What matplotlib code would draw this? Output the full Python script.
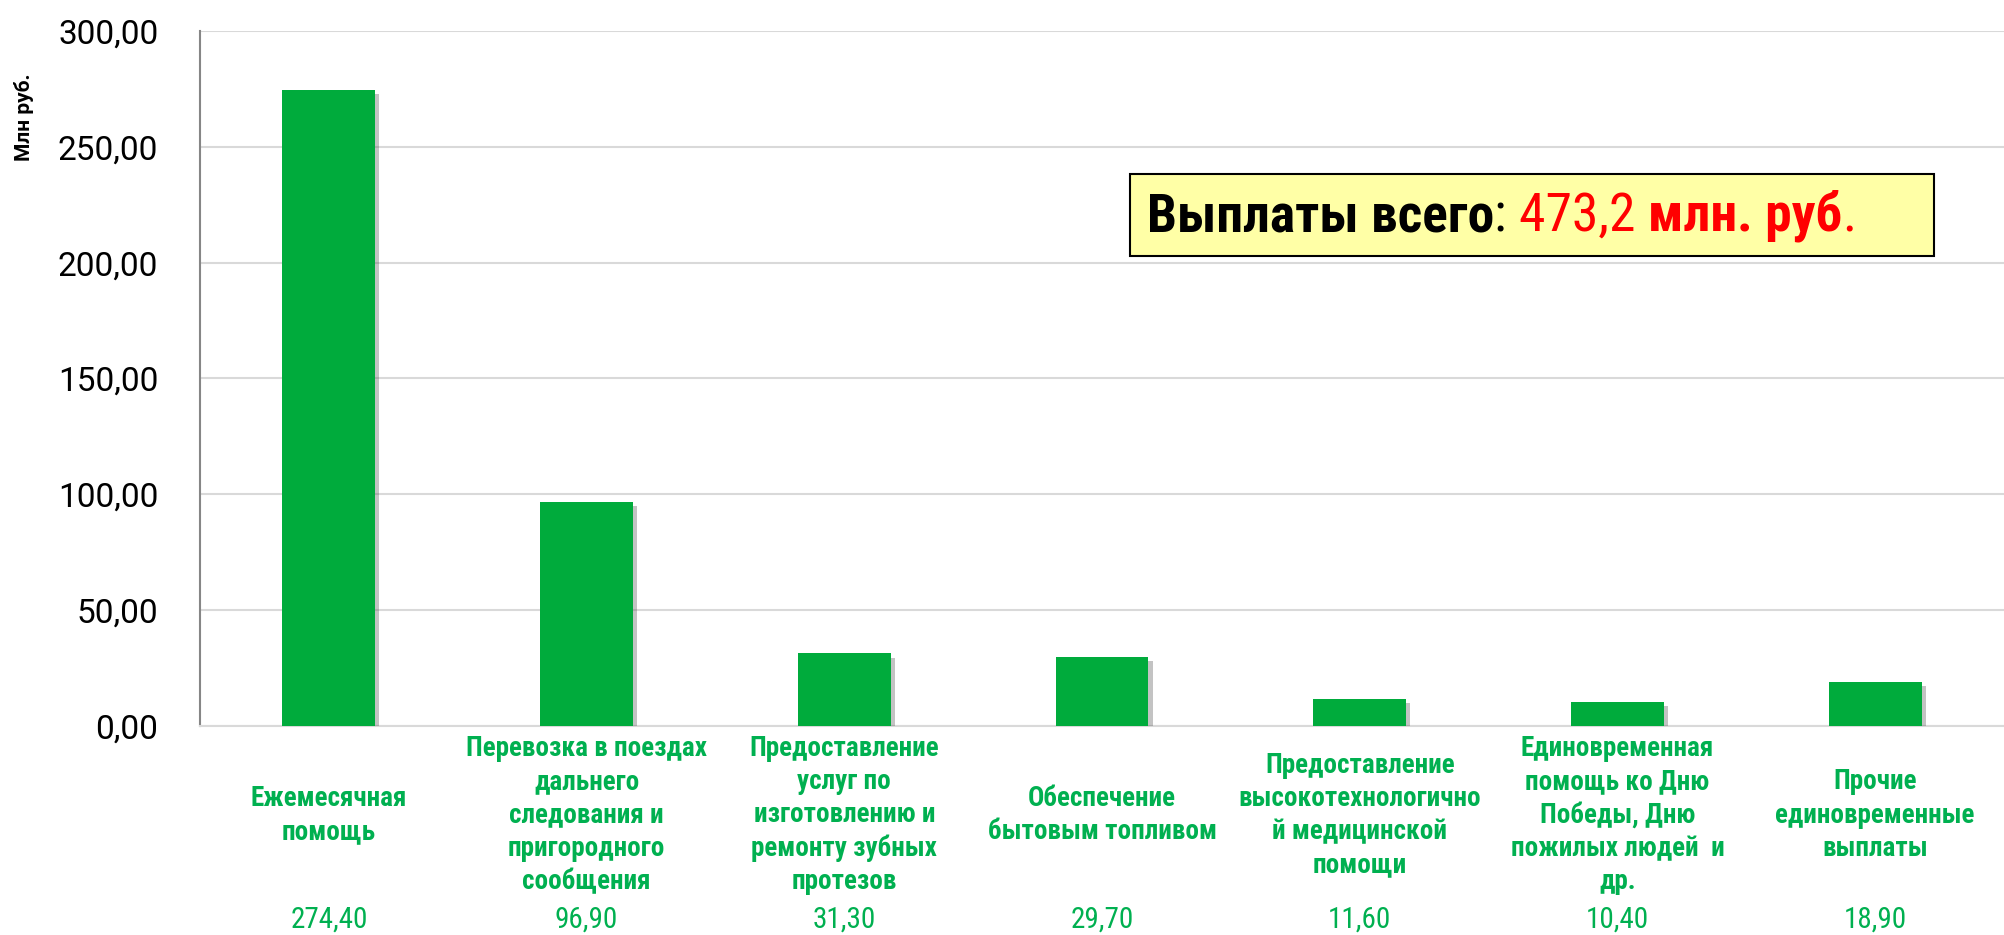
import matplotlib
matplotlib.use("Agg")
import matplotlib.pyplot as plt
import matplotlib.patheffects as pe
from matplotlib import transforms
from matplotlib.patches import Rectangle
from matplotlib.ticker import FuncFormatter, MultipleLocator

# data
categories = [
    "Ежемесячная\nпомощь",
    "Перевозка в поездах\nдальнего\nследования и\nпригородного\nсообщения",
    "Предоставление\nуслуг по\nизготовлению и\nремонту зубных\nпротезов",
    "Обеспечение\nбытовым топливом",
    "Предоставление\nвысокотехнологично\nй медицинской\nпомощи",
    "Единовременная\nпомощь ко Дню\nПобеды, Дню\nпожилых людей  и\nдр.",
    "Прочие\nединовременные\nвыплаты",
]
values = [274.40, 96.90, 31.30, 29.70, 11.60, 10.40, 18.90]
total_text = "473,2"

BAR = "#00AB3C"
GREEN = "#00B050"
NARROW = ["Roboto Condensed", "Roboto", "DejaVu Sans"]

W, H = 2004, 935
fig = plt.figure(figsize=(W / 100, H / 100), dpi=100)
ax = fig.add_axes([200 / W, 1 - 726 / H, 1 - 200 / W, (726 - 31) / H])

x = list(range(len(values)))
bars = ax.bar(x, values, width=0.36, color=BAR, zorder=3)
for b in bars:
    b.set_path_effects([pe.SimplePatchShadow(offset=(3, -3), shadow_rgbFace="#555555", alpha=0.35),
                        pe.Normal()])

ax.set_xlim(-0.5, len(values) - 0.5)
ax.set_ylim(0, 300)
ax.yaxis.set_major_locator(MultipleLocator(50))
ax.yaxis.set_major_formatter(FuncFormatter(lambda v, p: f"{v:.2f}".replace(".", ",")))
ax.grid(axis="y", color="#d9d9d9", lw=1.5, zorder=0)
ax.set_xticks([])
ax.tick_params(axis="y", length=0, pad=30, labelsize=24)
for lab in ax.get_yticklabels():
    lab.set_family("Roboto")
for s in ["top", "right"]:
    ax.spines[s].set_visible(False)
ax.spines["left"].set_color("#868686")
ax.spines["left"].set_linewidth(1.5)
ax.spines["bottom"].set_color("#d9d9d9")
ax.spines["bottom"].set_linewidth(1.5)

fig.text(24 / W, 0.875, "Млн руб.", rotation=90, ha="center", va="center",
         fontsize=15, fontweight="bold", family="Roboto")

# category labels and values under the axis
trans = transforms.blended_transform_factory(ax.transData, fig.transFigure)
for i, (cat, v) in enumerate(zip(categories, values)):
    ax.text(i, 0.1283, cat, transform=trans, ha="center", va="center", multialignment="center",
            fontsize=19.5, fontweight="bold", color=GREEN, family=NARROW, linespacing=1.3)
    ax.text(i, 0.016, f"{v:.2f}".replace(".", ","), transform=trans, ha="center", va="center",
            fontsize=21, color=GREEN, family=NARROW)

# total box
fig.add_artist(Rectangle((1130 / W, 1 - 256 / H), (1934 - 1130) / W, (256 - 174) / H,
                         transform=fig.transFigure, facecolor="#FFFFA6", edgecolor="black", lw=1.5))
pieces = [
    ("Выплаты всего", "black", "bold"),
    (": ", "black", "normal"),
    (total_text + " ", "red", "normal"),
    ("млн. руб", "red", "bold"),
    (".", "red", "normal"),
]
fig.canvas.draw()
renderer = fig.canvas.get_renderer()
xpos = 1147 / W
for txt, col, wt in pieces:
    t = fig.text(xpos, 1 - 231 / H, txt, color=col, fontweight=wt, fontsize=38.5,
                 family=NARROW, ha="left", va="baseline")
    xpos += t.get_window_extent(renderer).width / W

fig.savefig("out.png", dpi=100)
